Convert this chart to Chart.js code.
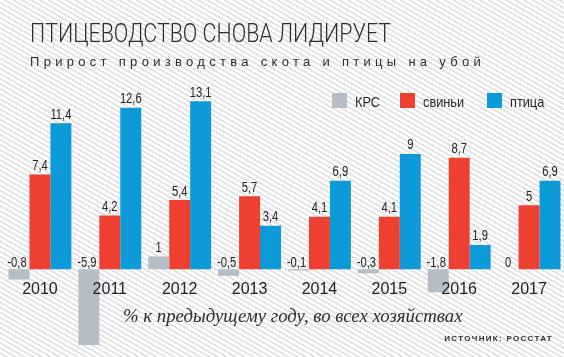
<!DOCTYPE html>
<html><head><meta charset="utf-8">
<script src="https://cdn.jsdelivr.net/npm/chart.js@4.4.1/dist/chart.umd.min.js"></script>
<style>
html,body{margin:0;padding:0;}
body{width:564px;height:357px;position:relative;overflow:hidden;background:repeating-linear-gradient(30deg,#ffffff 0px,#ffffff 2.5px,#e3e3e3 2.5px,#e3e3e3 4.4px);}
#c{position:absolute;left:0;top:0;}
.t{position:absolute;white-space:nowrap;line-height:1;color:#2e2e2e;}
#title{left:30px;top:19px;font:300 25px 'Roboto','Liberation Sans',sans-serif;transform-origin:0 0;}
#sub{left:30px;top:54px;font:13px 'Liberation Sans',sans-serif;letter-spacing:4.3px;}
#note{left:123px;top:305px;font:italic 18.8px 'Liberation Serif',serif;}
#src{right:11px;top:334px;font:bold 8px 'Liberation Sans',sans-serif;letter-spacing:1.3px;}
</style></head><body>
<canvas id="c" width="564" height="357"></canvas>
<div class="t" id="title">ПТИЦЕВОДСТВО СНОВА ЛИДИРУЕТ</div>
<div class="t" id="sub">Прирост производства скота и птицы на убой</div>
<div class="t" id="note">% к предыдущему году, во всех хозяйствах</div>
<div class="t" id="src">ИСТОЧНИК: РОССТАТ</div>
<script>
const years = ['2010','2011','2012','2013','2014','2015','2016','2017'];
const seriesNames = ['КРС','свиньи','птица'];
const krs = [-0.8,-5.9,1,-0.5,-0.1,-0.3,-1.8,0];
const pigs = [7.4,4.2,5.4,5.7,4.1,4.1,8.7,5];
const poultry = [11.4,12.6,13.1,3.4,6.9,9,1.9,6.9];
const colors = ['#b5bec6','#ee4031','#0c9ad9'];
const seriesData = [krs, pigs, poultry];

// squeeze the title horizontally to the condensed width of the original
const titleEl = document.getElementById('title');
titleEl.style.transform = 'scaleX(' + (361 / titleEl.offsetWidth) + ')';

function drawSqueezed(ctx, txt, x, y, sx) {
  ctx.save();
  ctx.translate(x, y);
  ctx.scale(sx, 1);
  ctx.fillText(txt, 0, 0);
  ctx.restore();
}

const valueLabels = {
  id:'valueLabels',
  afterDatasetsDraw(chart){
    const ctx = chart.ctx;
    const y0 = chart.scales.y.getPixelForValue(0);
    ctx.save();
    ctx.font = '14px "Liberation Sans", sans-serif';
    ctx.fillStyle = '#222';
    ctx.textAlign = 'center';
    ctx.textBaseline = 'alphabetic';
    chart.data.datasets.forEach((ds, di) => {
      const meta = chart.getDatasetMeta(di);
      meta.data.forEach((bar, i) => {
        const v = ds.data[i];
        const txt = String(v).replace('.', ',');
        let x = bar.x, y;
        if (v > 0) { y = bar.y - 4.5; }
        else { y = y0 - 2.5; if (v < 0) x -= 2; }
        drawSqueezed(ctx, txt, x, y, 0.8);
      });
    });
    ctx.restore();
  },
  afterDraw(chart){
    const ctx = chart.ctx;
    const xs = [332, 400, 487];
    ctx.save();
    ctx.font = '15px "Liberation Sans", sans-serif';
    ctx.textBaseline = 'alphabetic';
    ctx.textAlign = 'left';
    chart.data.datasets.forEach((ds, di) => {
      ctx.fillStyle = ds.backgroundColor;
      ctx.fillRect(xs[di], 93, 15, 15);
      ctx.fillStyle = '#2a2a2a';
      drawSqueezed(ctx, ds.label, xs[di] + 23, 107, 0.85);
    });
    ctx.restore();
  }
};

new Chart(document.getElementById('c'), {
  type: 'bar',
  data: {
    labels: years,
    datasets: seriesNames.map((n, k) => ({
      label: n, data: seriesData[k], backgroundColor: colors[k],
      borderWidth: 0, categoryPercentage: 0.9, barPercentage: 1
    }))
  },
  options: {
    responsive: false, animation: false, devicePixelRatio: 1,
    layout: { padding: { left: 5, right: 0, top: 89.8, bottom: 10.8 } },
    plugins: { legend: { display: false }, tooltip: { enabled: false }, title: { display: false } },
    scales: {
      y: { display: false, min: -6, max: 14 },
      x: {
        position: { y: 0 },
        grid: { display: false, drawTicks: false },
        border: { display: false },
        ticks: { padding: 11, color: '#222', font: { family: "'Liberation Sans', sans-serif", size: 16 }, z: 1 }
      }
    }
  },
  plugins: [valueLabels]
});
</script>
</body></html>
